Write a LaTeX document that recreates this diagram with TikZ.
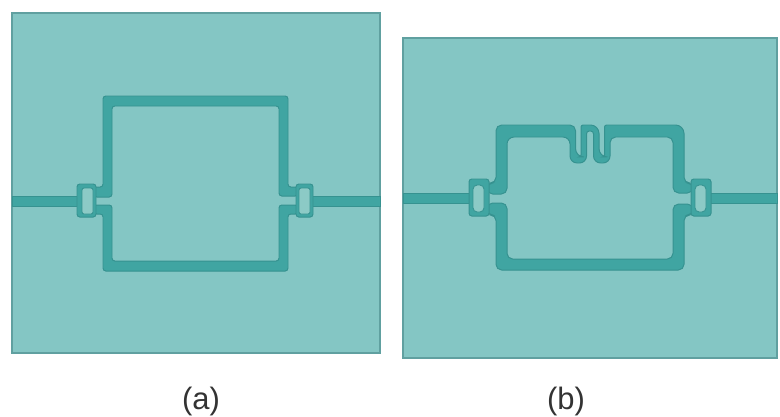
\documentclass[tikz,border=0pt]{standalone}
\usepackage{fontspec}
\setmainfont{Liberation Sans}
\definecolor{board}{RGB}{132,198,196}
\definecolor{boardedge}{RGB}{96,160,160}
\definecolor{metal}{RGB}{64,165,162}
\definecolor{metaledge}{RGB}{54,146,144}
\definecolor{slot}{RGB}{140,202,198}
\tikzset{
  board/.style={fill=board, draw=boardedge, line width=0.9pt},
  strip/.style={fill=metal, draw=metaledge, line width=0.7pt, rounded corners=2pt},
  feed/.style={fill=metal, draw=metaledge, line width=0.5pt},
  slot/.style={fill=slot, draw=metaledge, line width=0.6pt, rounded corners=1.5pt},
  caption/.style={font=\fontsize{22}{26}\selectfont, text=black!80}
}
\begin{document}
\begin{tikzpicture}[x=0.025cm, y=-0.025cm]
  \useasboundingbox (0,0) rectangle (780,416);
  % panel a
  \draw[board] (12,13) rectangle (380,353);
  \draw[feed] (12,196) rectangle (78,206);
  \draw[feed] (312,196) rectangle (380,206);
  \draw[strip] (94,187) -- (103,187) -- (103,96) -- (288,96) -- (288,187) -- (298,187) -- (298,196)
    -- (279,196) -- (279,106) -- (112,106) -- (112,197) -- (94,197) -- cycle;
  \draw[strip] (94,205) -- (112,205) -- (112,261) -- (279,261) -- (279,205) -- (298,205) -- (298,214)
    -- (288,214) -- (288,271) -- (103,271) -- (103,214) -- (94,214) -- cycle;
  \draw[strip] (77,184) rectangle (96,217);
  \draw[slot] (82,188) rectangle (93,214);
  \draw[strip] (296,184) rectangle (313,217);
  \draw[slot] (299,188) rectangle (310,214);
  % panel b
  \draw[board] (403,38) rectangle (777,358);
  \draw[feed] (403,193) rectangle (470,203);
  \draw[feed] (710,193) rectangle (777,203);
  \draw[strip, rounded corners=4pt] (487,183) -- (496,183) -- (496,125) -- (575.5,125)
    [rounded corners=6pt] -- (575.5,157) [rounded corners=1.5pt] -- (581,157) -- (581,125)
    [rounded corners=6pt] -- (599,125) -- (599,157) [rounded corners=1.5pt] -- (604.5,157) -- (604.5,125)
    [rounded corners=6pt] -- (684,125) [rounded corners=4pt] -- (684,183) -- (693,183)
    -- (693,193) -- (673,193) -- (673,137) -- (610,137) [rounded corners=5pt] -- (610,163) -- (593.5,163)
    [rounded corners=2pt] -- (593.5,131) -- (586.5,131) [rounded corners=5pt] -- (586.5,163) -- (570,163)
    -- (570,137) -- (507,137) [rounded corners=4pt] -- (507,194) -- (487,194) -- cycle;
  \draw[strip, rounded corners=4pt] (487,203) -- (507,203) -- (507,259) -- (673,259) -- (673,204) -- (693,204)
    -- (693,215) -- (684,215) -- (684,270) -- (496,270) -- (496,215) -- (487,215) -- cycle;
  \draw[strip] (469,179) rectangle (489,216);
  \draw[slot, rounded corners=3pt] (473,185) rectangle (484,212);
  \draw[strip] (691,179) rectangle (711,216);
  \draw[slot, rounded corners=3pt] (695,185) rectangle (706,212);
  % labels
  \node[caption] (capa) at (201,401) {(a)};
  \node[caption] (capb) at (566,401) {(b)};
\end{tikzpicture}
\end{document}
